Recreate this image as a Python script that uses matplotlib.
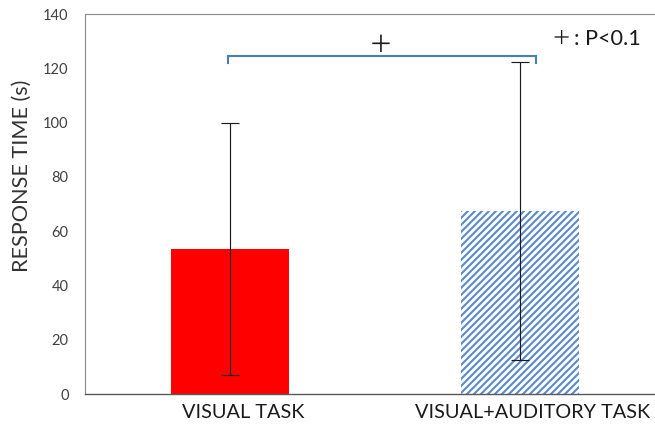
import matplotlib
matplotlib.use("Agg")
import matplotlib.pyplot as plt
import matplotlib.transforms as mtransforms

# Data
categories = ["VISUAL TASK", "VISUAL+AUDITORY TASK"]
mean_time = [53.5, 67.5]
sd_time = [46.5, 55.0]
y_ticks = [0, 20, 40, 60, 80, 100, 120, 140]

DPI = 84
W, H = 655, 427
plt.rcParams["font.family"] = ["Lato", "DejaVu Sans"]
plt.rcParams["hatch.linewidth"] = 1.8

fig = plt.figure(figsize=(W / DPI, H / DPI), dpi=DPI)
# axes in pixel terms: left 85, top 14, bottom 394, one category = 290 px
ax = fig.add_axes([85 / W, (H - 394) / H, 580 / W, 380 / H])

x = list(range(len(categories)))
bar_w = 0.41
ax.bar(x[0], mean_time[0], width=bar_w, color="#FF0000", linewidth=0, zorder=2)
ax.bar(x[1], mean_time[1], width=bar_w, color="white", edgecolor="#5B8BC8",
       hatch="////", linewidth=0, zorder=2)
ax.errorbar(x, mean_time, yerr=sd_time, fmt="none", ecolor="#1a1a1a",
            elinewidth=1.0, capsize=7.5, capthick=1.0, zorder=3)

ax.set_xlim(-0.5, 1.5)
ax.set_ylim(0, 140)
ax.set_yticks(y_ticks)
ax.tick_params(axis="y", length=0, pad=14, labelsize=12.5, labelcolor="#404040")
ax.tick_params(axis="x", length=0, pad=9, labelsize=17, labelcolor="#1a1a1a")
ax.set_xticks(x)
ax.set_xticklabels(categories)
shift = mtransforms.ScaledTranslation(13 / DPI, 0, fig.dpi_scale_trans)
for lab in ax.get_xticklabels():
    lab.set_transform(lab.get_transform() + shift)

ax.set_ylabel("RESPONSE TIME (s)", fontsize=18.5, color="#333333")
ax.yaxis.set_label_coords(-(85 - 22) / 580, (394 - 176) / 380)
ax.yaxis.label.set_va("center")

for side in ["top", "left"]:
    ax.spines[side].set_color("#8c8c8c")
    ax.spines[side].set_linewidth(1.0)
ax.spines["bottom"].set_color("#595959")
ax.spines["bottom"].set_linewidth(1.2)
ax.spines["right"].set_visible(False)

# significance bracket
bx0, bx1, by_top, by_end = -0.007, 1.055, 124.5, 122.0
ax.plot([bx0, bx0, bx1, bx1], [by_end, by_top, by_top, by_end],
        color="#4A7EBB", linewidth=1.8, solid_joinstyle="miter", zorder=4)
ax.text(0.52, 128.3, "＋", ha="center", va="center", fontsize=20.5,
        family=["Noto Sans CJK JP", "DejaVu Sans"], color="#1a1a1a")

# note on the marker
fig.text(561 / W, 1 - 38 / H, "＋", ha="center", va="center", fontsize=16.5,
         family=["Noto Sans CJK JP", "DejaVu Sans"], color="#1a1a1a")
fig.text(574 / W, 1 - 39 / H, ": P<0.1", ha="left", va="center", fontsize=18.5,
         color="#1a1a1a")

fig.savefig("out.png", dpi=DPI)
